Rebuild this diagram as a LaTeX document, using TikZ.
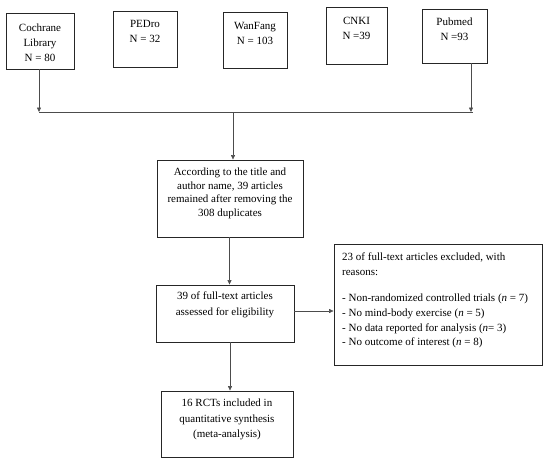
\documentclass[tikz,border=0pt]{standalone}
\usepackage{fontspec}
\setmainfont{Liberation Serif}
\usetikzlibrary{arrows.meta}
\begin{document}
\begin{tikzpicture}[x=1pt,y=-1pt,
  box/.style={draw=black!85,line width=0.9pt,inner sep=0pt,minimum width=#1},
  txt/.style={inner sep=0pt,align=center,font=\fontsize{11}{15}\selectfont},
  conn/.style={draw=black!70,line width=0.6pt},
  arr/.style={conn,-{Triangle[length=4.5pt,width=4pt]}}]
\useasboundingbox (0,0) rectangle (550,464);
% source boxes
\node[box=68pt,minimum height=56pt] (coch) at (40,41) {};
\node[txt] (tcoch) at (40,43) {Cochrane\\Library\\N = 80};
\node[box=64pt,minimum height=56pt] (ped) at (145,39) {};
\node[txt] (tped) at (145,31.5) {PEDro\\N = 32};
\node[box=64pt,minimum height=56pt] (wan) at (255,40) {};
\node[txt] (twan) at (255,33) {WanFang\\N = 103};
\node[box=61pt,minimum height=57pt] (cnki) at (356.5,35.5) {};
\node[txt] (tcnki) at (356.5,28) {CNKI\\N =39};
\node[box=65pt,minimum height=54pt] (pub) at (454.5,36) {};
\node[txt] (tpub) at (454.5,29.5) {Pubmed\\N =93};
% junction
\coordinate (jl) at (39,112);
\coordinate (jr) at (471,112);
\coordinate (jend) at (473,112);
\coordinate (jm) at (233,112);
\draw[conn] (jl) -- (jend);
\draw[arr] (coch.south -| jl) -- (jl);
\draw[arr] (pub.south -| jr) -- (jr);
% main boxes
\node[box=146pt,minimum height=77pt] (b2) at (230,198.5) {};
\node[txt,font=\fontsize{11}{13.7}\selectfont] (tb2) at (230,193.5) {According to the title and\\author name, 39 articles\\remained after removing the\\308 duplicates};
\node[box=138pt,minimum height=57pt] (b3) at (225,313.5) {};
\node[txt,font=\fontsize{11}{16}\selectfont] (tb3) at (225,305) {39 of full-text articles\\assessed for eligibility};
\node[box=132pt,minimum height=66pt] (b4) at (227,424) {};
\node[txt,font=\fontsize{11}{15.5}\selectfont] (tb4) at (227,419.5) {16 RCTs included in\\quantitative synthesis\\(meta-analysis)};
\node[box=208pt,minimum height=121pt] (ex) at (438,304.5) {};
\node[txt,align=left,anchor=north west,font=\fontsize{11}{14.7}\selectfont] (tex) at (342,252.5) {23 of full-text articles excluded, with\\reasons:\\[12pt]- Non-randomized controlled trials (\textit{n} = 7)\\- No mind-body exercise (\textit{n} = 5)\\- No data reported for analysis (\textit{n}= 3)\\- No outcome of interest (\textit{n} = 8)};
% connectors
\draw[arr] (jm) -- (jm |- b2.north);
\coordinate (s2) at (229.5,237);
\draw[arr] (s2) -- (s2 |- b3.north);
\coordinate (s3) at (230,342);
\draw[arr] (s3) -- (s3 |- b4.north);
\coordinate (e3) at (294,311);
\draw[arr] (e3) -- (e3 -| ex.west);
\end{tikzpicture}
\end{document}
